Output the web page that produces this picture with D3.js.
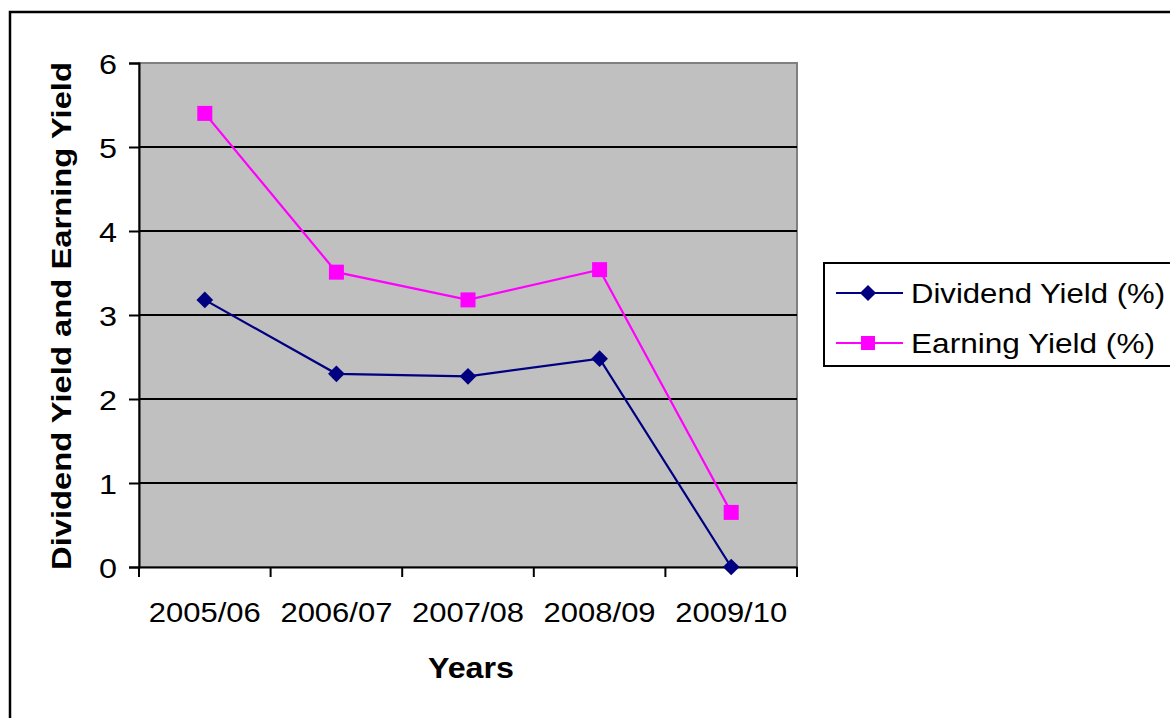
<!DOCTYPE html>
<html><head><meta charset="utf-8">
<script src="https://cdn.jsdelivr.net/npm/d3@7"></script>
<style>body{margin:0;background:#fff;}svg{display:block;font-family:"Liberation Sans",Arial,sans-serif;}</style>
</head><body>
<svg id="c" width="1170" height="718"></svg>
<script>
const categories = ["2005/06","2006/07","2007/08","2008/09","2009/10"];
const dividendYield = [3.18, 2.30, 2.27, 2.48, 0.0];
const earningYield = [5.40, 3.51, 3.18, 3.54, 0.65];
const yTicks = [0,1,2,3,4,5,6];
const seriesNames = ["Dividend Yield (%)","Earning Yield (%)"];

const FONT = "Liberation Sans, Arial, sans-serif";
const svg = d3.select("#c");
function fitWidth(sel, w){
  sel.attr("textLength", w).attr("lengthAdjust","spacingAndGlyphs");
}

// outer frame
svg.append("rect").attr("x",10).attr("y",12).attr("width",1180).attr("height",720)
  .attr("fill","#fff").attr("stroke","#000").attr("stroke-width",2.5);

const L=139,R=797,T=63,B=567;
const x = d3.scaleBand().domain(categories).range([L,R]).padding(0);
const y = d3.scaleLinear().domain([0,6]).range([B,T]);

svg.append("rect").attr("x",L).attr("y",T).attr("width",R-L).attr("height",B-T)
  .attr("fill","#c0c0c0").attr("stroke","#808080").attr("stroke-width",2);

// gridlines
svg.append("g").selectAll("line").data(yTicks.filter(d=>d>0&&d<6)).join("line")
  .attr("x1",L).attr("x2",R).attr("y1",d=>y(d)).attr("y2",d=>y(d))
  .attr("stroke","#000").attr("stroke-width",2);

// y axis
const ya = svg.append("g").attr("transform",`translate(${L},0)`)
  .call(d3.axisLeft(y).tickValues(yTicks).tickSize(10).tickPadding(12).tickFormat(d3.format("d")));
ya.attr("font-size",null).attr("font-family",null);
ya.select(".domain").attr("stroke","#000").attr("stroke-width",2);
ya.selectAll(".tick line").attr("stroke","#000").attr("stroke-width",2);
ya.selectAll(".tick text").attr("font-size",28).attr("fill","#000").attr("font-family",FONT).attr("dy","0.36em");
fitWidth(ya.selectAll(".tick text"),18);

// x axis
const xa = svg.append("g").attr("transform",`translate(0,${B})`)
  .call(d3.axisBottom(x).tickSize(0).tickPadding(36));
xa.attr("font-size",null).attr("font-family",null);
xa.select(".domain").attr("stroke","#000").attr("stroke-width",2);
xa.selectAll(".tick text").attr("font-size",27).attr("fill","#000").attr("font-family",FONT);
fitWidth(xa.selectAll(".tick text"),112);
const bounds = categories.map(c=>x(c)).concat([R]);
svg.append("g").selectAll("line").data(bounds).join("line")
  .attr("x1",d=>d).attr("x2",d=>d).attr("y1",B).attr("y2",B+10)
  .attr("stroke","#000").attr("stroke-width",2);

const cx = c => x(c)+x.bandwidth()/2;
const line = d3.line().x((d,i)=>cx(categories[i])).y(d=>y(d));

// dividend
svg.append("path").datum(dividendYield).attr("d",line).attr("fill","none").attr("stroke","#000080").attr("stroke-width",2.2);
svg.append("g").selectAll("path").data(dividendYield).join("path")
  .attr("d",d3.symbol(d3.symbolSquare,140))
  .attr("transform",(d,i)=>`translate(${cx(categories[i])},${y(d)}) rotate(45)`)
  .attr("fill","#000080");
// earning
svg.append("path").datum(earningYield).attr("d",line).attr("fill","none").attr("stroke","#ff00ff").attr("stroke-width",2.2);
svg.append("g").selectAll("rect").data(earningYield).join("rect")
  .attr("x",(d,i)=>cx(categories[i])-7.5).attr("y",d=>y(d)-7.5).attr("width",15).attr("height",15)
  .attr("fill","#ff00ff");

// axis titles
const xt = svg.append("text").attr("x",471).attr("y",678).attr("text-anchor","middle")
  .attr("font-size",29).attr("font-weight","bold").attr("font-family",FONT).text("Years");
fitWidth(xt,86);
const yt = svg.append("text").attr("transform","translate(71,316) rotate(-90)").attr("text-anchor","middle")
  .attr("font-size",28).attr("font-weight","bold").attr("font-family",FONT).text("Dividend Yield and Earning Yield");
fitWidth(yt,508);

// legend
const lg = svg.append("g");
lg.append("rect").attr("x",824).attr("y",263).attr("width",360).attr("height",103)
  .attr("fill","#fff").attr("stroke","#000").attr("stroke-width",2);
const colors=["#000080","#ff00ff"];
const legendW=[254,244];
seriesNames.forEach((n,i)=>{
  const yy = 293 + i*50;
  lg.append("line").attr("x1",836).attr("x2",903).attr("y1",yy).attr("y2",yy).attr("stroke",colors[i]).attr("stroke-width",2.2);
  if(i===0){
    lg.append("path").attr("d",d3.symbol(d3.symbolSquare,130)).attr("transform",`translate(868,${yy}) rotate(45)`).attr("fill",colors[i]);
  } else {
    lg.append("rect").attr("x",861).attr("y",yy-7).attr("width",14).attr("height",14).attr("fill",colors[i]);
  }
  const t = lg.append("text").attr("x",911).attr("y",yy+10).attr("font-size",28).attr("fill","#000").attr("font-family",FONT).text(n);
  fitWidth(t, legendW[i]);
});
</script>
</body></html>
